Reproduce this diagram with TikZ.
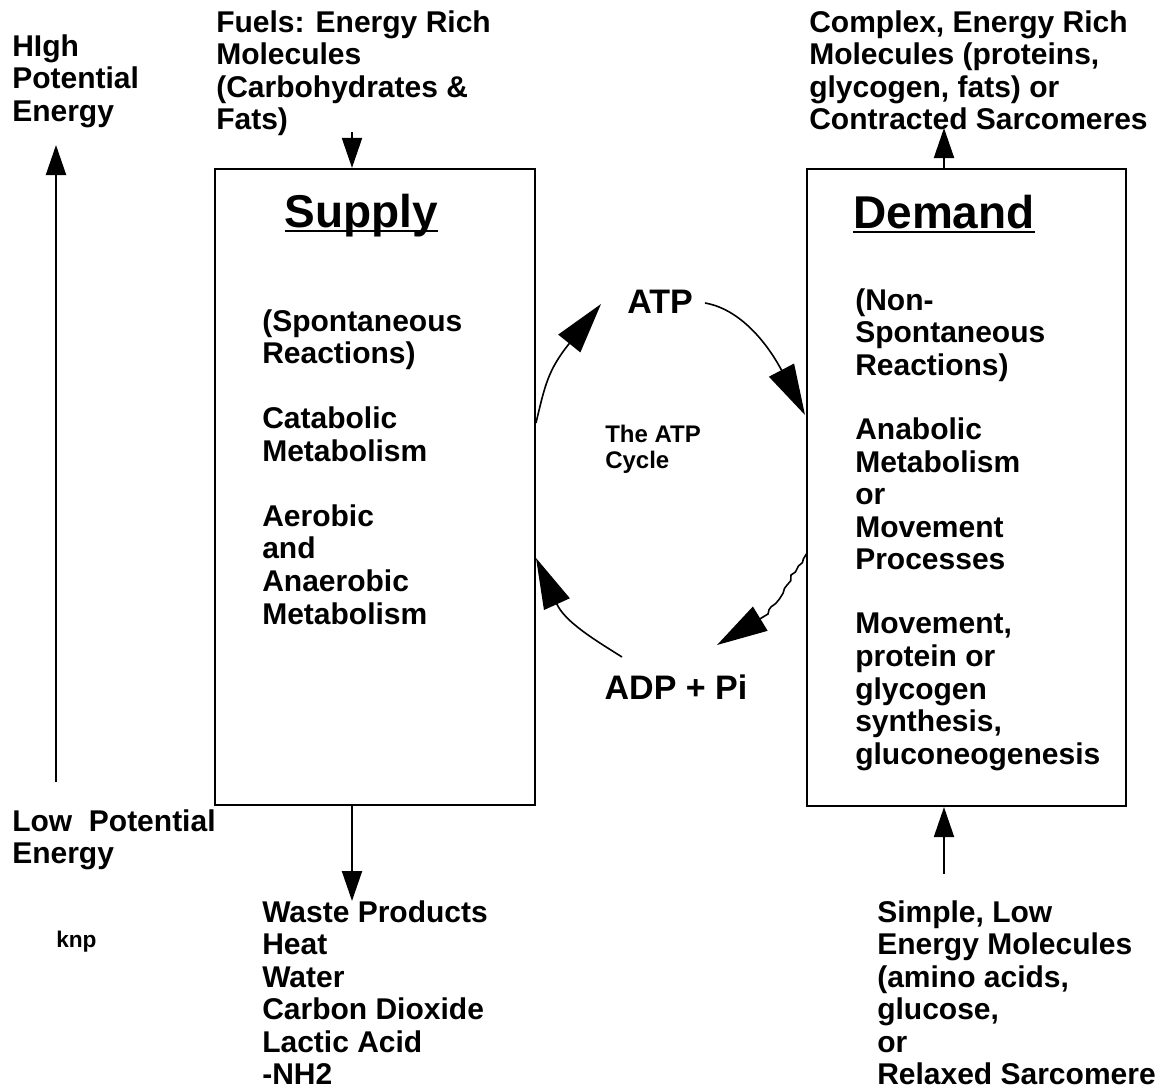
\documentclass[tikz,border=0pt]{standalone}
\usepackage{fontspec}
\setmainfont{Liberation Sans}
\usetikzlibrary{arrows.meta,decorations.pathmorphing}
\begin{document}
\begin{tikzpicture}[x=0.75pt,y=-0.75pt,
  txt/.style={anchor=north west, inner sep=0pt, align=left,
    font=\fontsize{22.5}{24.4}\selectfont\bfseries, execute at begin node=\strut},
  title/.style={anchor=base, inner sep=0pt, font=\fontsize{34.5}{40}\selectfont\bfseries},
  big/.style={anchor=base, inner sep=0pt, font=\fontsize{25.5}{30}\selectfont\bfseries},
  box/.style={draw, line width=1.6pt, inner sep=0pt},
  sarrow/.style={line width=1.5pt, -{Triangle[length=22.5pt,width=15pt]}},
  carrow/.style={line width=1.2pt, -{Triangle[length=38pt,width=21pt]}}]
\fill[white] (0,0) rectangle (1164,1089);
\useasboundingbox (0,0) rectangle (1164,1089);

% boxes
\node[box, minimum width=240pt, minimum height=477pt] (supply) at (375,487) {};
\node[box, minimum width=239.25pt, minimum height=477.75pt] (demand) at (966.5,487.5) {};

% titles
\node[title] (suptitle) at (361.5,227) {Supply};
\node[title] (demtitle) at (944,228) {Demand};
\draw[line width=1.5pt] ([yshift=-3pt]suptitle.base west) -- ([yshift=-3pt]suptitle.base east);
\draw[line width=1.5pt] ([yshift=-3pt]demtitle.base west) -- ([yshift=-3pt]demtitle.base east);

% side texts
\node[txt] (high) at (12,34.2) {HIgh\\Potential\\Energy};
\node[txt] (low) at (12,809.2) {Low\ \ Potential\\Energy};
\node[anchor=base west, inner sep=0pt, font=\fontsize{17}{20}\selectfont\bfseries] (knp) at (56,947) {knp};

\node[txt] (fuels) at (216,10.2) {Fuels: Energy Rich\\Molecules\\(Carbohydrates \&\\Fats)};
\node[txt] (complex) at (809,10.2) {Complex, Energy Rich\\Molecules (proteins,\\glycogen, fats) or\\Contracted Sarcomeres};
\node[txt] (waste) at (262,900.2) {Waste Products\\Heat\\Water\\Carbon Dioxide\\Lactic Acid\\-NH2};
\node[txt] (simple) at (877,900.2) {Simple, Low\\Energy Molecules\\(amino acids,\\glucose,\\or\\Relaxed Sarcomere};

\node[txt] (supin) at (262,309.2) {(Spontaneous\\Reactions)\\[24.4pt]Catabolic\\Metabolism\\[24.4pt]Aerobic\\and\\Anaerobic\\Metabolism};
\node[txt] (demin) at (855,288.2) {(Non-\\Spontaneous\\Reactions)\\[23.8pt]Anabolic\\Metabolism\\or\\Movement\\Processes\\[23.8pt]Movement,\\protein or\\glycogen\\synthesis,\\gluconeogenesis};

% cycle
\node[big] (atp) at (660,313) {ATP};
\node[big] (adp) at (676,699) {ADP + Pi};
\node[anchor=north west, inner sep=0pt, align=left, font=\fontsize{18}{19.8}\selectfont\bfseries,
  execute at begin node=\strut] (cycle) at (605,424.5) {The ATP\\Cycle};

% straight arrows
\coordinate (lostart) at (56,782);
\coordinate (hiend) at (56,145);
\draw[sarrow] (lostart) -- (hiend);
\coordinate (fuelsarr) at (352,132);
\draw[sarrow] (fuelsarr) -- (fuelsarr |- supply.north);
\coordinate (complexarr) at (944,128);
\draw[sarrow] (complexarr |- demand.north) -- (complexarr);
\coordinate (wastearr) at (352,901);
\draw[sarrow] (wastearr |- supply.south) -- (wastearr);
\coordinate (simplearr) at (944,874);
\draw[sarrow] (simplearr) -- (simplearr |- demand.south);

% curved arrows of the ATP cycle
\coordinate (c1a) at (536,423);
\coordinate (c1b) at (601,304);
\draw[carrow] (c1a) .. controls (545,385) and (548,370) .. (c1b);
\coordinate (c2a) at (705,303);
\coordinate (c2b) at (805,415);
\draw[carrow] (c2a) .. controls (745,310) and (772,352) .. (c2b);
\coordinate (c3a) at (807,553);
\coordinate (c3m) at (768,614);
\coordinate (c3b) at (717,645);
\draw[carrow] decorate[decoration={random steps,amplitude=1.3pt,segment length=4pt}] {(c3a) -- (c3m)} -- (c3b);
\coordinate (c4a) at (622,657);
\coordinate (c4b) at (536,558);
\draw[carrow] (c4a) .. controls (595,640) and (565,622) .. (c4b);
\end{tikzpicture}
\end{document}
